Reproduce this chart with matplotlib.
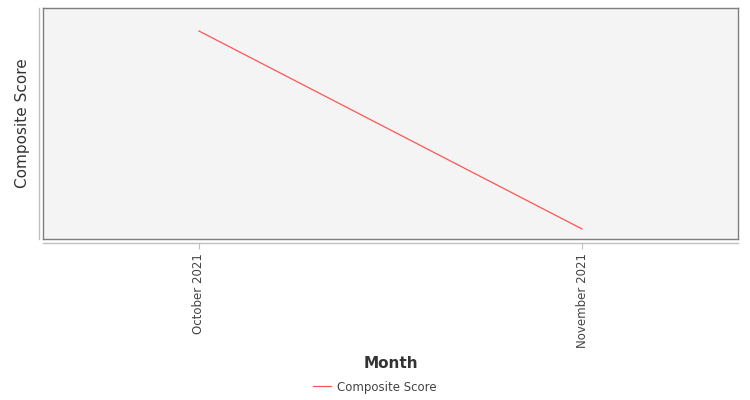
import matplotlib
matplotlib.use("Agg")
import matplotlib.pyplot as plt
from matplotlib.lines import Line2D

# data (y scale has no ticks, so values are relative)
months = ["October 2021", "November 2021"]
composite_score = [0.92, 0.08]

W, H = 750, 400
fig = plt.figure(figsize=(W / 100, H / 100), dpi=100)

# main plot area with gray frame
ax = fig.add_axes([43 / W, 1 - 239 / H, 695 / W, 231 / H])
ax.set_facecolor("#f4f4f4")
for s in ax.spines.values():
    s.set_color("#7f7f7f")
    s.set_linewidth(1.0)

x = list(range(len(months)))
ax.plot(x, composite_score, color="#ff5555", linewidth=0.9, label="Composite Score")

# padding so the points land where they do in the reference
span = composite_score[0] - composite_score[1]
per_px = span / 198.0
ylim = (composite_score[1] - 10 * per_px, composite_score[0] + 23 * per_px)
xlim = (-0.407, len(months) - 1 + 0.407)
ax.set_ylim(ylim)
ax.set_xlim(xlim)
ax.set_xticks([])
ax.set_yticks([])

# separate offset axis lines in light gray, carrying the ticks
ax2 = fig.add_axes(ax.get_position())
ax2.set_xlim(xlim)
ax2.set_ylim(ylim)
ax2.patch.set_visible(False)
ax2.spines["top"].set_visible(False)
ax2.spines["right"].set_visible(False)
for side in ("left", "bottom"):
    ax2.spines[side].set_position(("outward", 3))
    ax2.spines[side].set_color("#c0c0c0")
    ax2.spines[side].set_linewidth(1.0)
ax2.set_yticks([])
ax2.set_xticks(x)
ax2.set_xticklabels(months, rotation=90, fontsize=8.5, color="#444444")
ax2.tick_params(axis="x", length=4, width=0.8, color="#c0c0c0", pad=3)

ax2.set_ylabel("Composite Score", fontsize=11, color="#333333", labelpad=6)
ax2.set_xlabel("Month", fontsize=11, fontweight="bold", color="#333333", labelpad=6)

fig.legend(handles=[Line2D([], [], color="#ff5555", linewidth=0.9)],
           labels=["Composite Score"], loc="center", bbox_to_anchor=(0.5, 1 - 387 / H),
           frameon=False, fontsize=8.5, handlelength=1.5, handletextpad=0.5,
           labelcolor="#444444")

fig.savefig("out.png", dpi=100)
